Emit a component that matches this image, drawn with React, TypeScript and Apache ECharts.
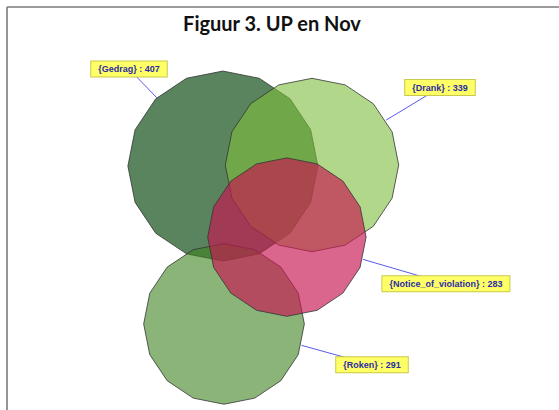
import React, { useEffect, useRef } from "react";
import * as echarts from "echarts";

// Venn sets and their counts
const setNames = ["Gedrag", "Drank", "Notice_of_violation", "Roken"];
const counts = [407, 339, 283, 291];
// Layout of circle centres (abstract units 0..100)
const centerX = [38.4, 66.25, 58.4, 38.75];
const centerY = [30.3, 30.0, 50.6, 75.4];
// Label box centres (same units)
const labelX = [9.06, 106.25, 108.1, 85.0];
const labelY = [2.57, 7.86, 63.9, 87.1];

const fills = [
  "rgba(20,80,25,0.7)",
  "rgba(125,190,60,0.6)",
  "rgba(200,20,80,0.65)",
  "rgba(60,130,30,0.6)",
];
const drawOrder = [1, 2, 4, 3];
const RADIUS_SCALE = 4.709; // px per sqrt(count)
const SIDES = 16;

export default function App() {
  const ref = useRef<HTMLDivElement>(null);
  useEffect(() => {
    const chart = echarts.init(ref.current!, undefined, { renderer: "svg" });
    const data = setNames.map((n, i) => ({
      name: n,
      value: [centerX[i], centerY[i], counts[i], labelX[i], labelY[i]],
    }));
    chart.setOption({
      animation: false,
      backgroundColor: "#ffffff",
      grid: { left: 100, top: 60, width: 320, height: 350 },
      xAxis: { type: "value", min: 0, max: 100, show: false },
      yAxis: { type: "value", min: 0, max: 100, inverse: true, show: false },
      graphic: [
        {
          type: "line",
          shape: { x1: 7, y1: 7, x2: 559, y2: 7 },
          style: { stroke: "#7a7a7a", lineWidth: 1.6 },
        },
        {
          type: "line",
          shape: { x1: 7, y1: 7, x2: 7, y2: 410 },
          style: { stroke: "#7a7a7a", lineWidth: 1.6 },
        },
        {
          type: "text",
          x: 272,
          y: 23,
          style: {
            text: "Figuur 3. UP en Nov",
            font: "bold 20px Lato",
            fill: "#111",
            align: "center",
            verticalAlign: "middle",
          },
        },
      ],
      series: [
        {
          type: "custom",
          coordinateSystem: "cartesian2d",
          data,
          renderItem: (params: any, api: any) => {
            const i = params.dataIndex;
            const c = api.coord([api.value(0), api.value(1)]);
            const r = RADIUS_SCALE * Math.sqrt(api.value(2));
            const lp = api.coord([api.value(3), api.value(4)]);
            const pts: number[][] = [];
            for (let k = 0; k < SIDES; k++) {
              const a = -Math.PI / 2 + (k * 2 * Math.PI) / SIDES;
              pts.push([c[0] + r * Math.cos(a), c[1] + r * Math.sin(a)]);
            }
            const dx = lp[0] - c[0];
            const dy = lp[1] - c[1];
            const d = Math.hypot(dx, dy);
            const ex = c[0] + (r * dx) / d;
            const ey = c[1] + (r * dy) / d;
            return {
              type: "group",
              children: [
                {
                  type: "polygon",
                  shape: { points: pts },
                  style: { fill: fills[i], stroke: "#333333", lineWidth: 0.8 },
                  z2: drawOrder[i],
                },
                {
                  type: "line",
                  shape: { x1: ex, y1: ey, x2: lp[0], y2: lp[1] },
                  style: { stroke: "#5a5af0", lineWidth: 1 },
                  z2: 100,
                },
                {
                  type: "text",
                  x: lp[0],
                  y: lp[1],
                  style: {
                    text: "{" + setNames[i] + "} : " + counts[i],
                    font: "bold 9px 'Liberation Sans'",
                    fill: "#2b2ba5",
                    align: "center",
                    verticalAlign: "middle",
                    backgroundColor: "#ffff66",
                    borderColor: "#c9c94a",
                    borderWidth: 1,
                    padding: [3, 7],
                  },
                  z2: 101,
                },
              ],
            };
          },
        },
      ],
    });
    return () => chart.dispose();
  }, []);
  return (
    <div
      ref={ref}
      style={{ position: "absolute", left: 0, top: 0, width: 559, height: 410 }}
    />
  );
}
